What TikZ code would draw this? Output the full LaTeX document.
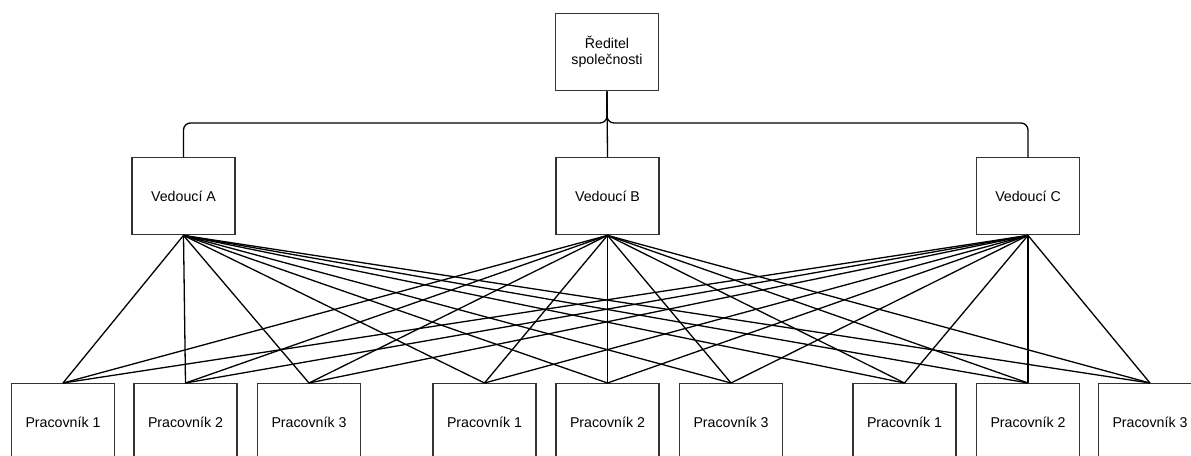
\documentclass[tikz,border=0pt]{standalone}
\usepackage{fontspec}
\setmainfont{Liberation Sans}
\begin{document}
\begin{tikzpicture}[x=1pt,y=-1pt,
  orgbox/.style={draw=black!80, line width=1.4pt, fill=white,
    minimum width=103pt, minimum height=77pt, inner sep=0pt,
    font=\fontsize{14.2}{16}\selectfont, align=center, anchor=north},
  link/.style={line width=1.3pt, line join=round},
  bus/.style={link, rounded corners=7pt}]
\useasboundingbox (0,0) rectangle (1191,455);
\clip (0,0) rectangle (1191,455);

% director
\node[orgbox] (R) at (607,13) {Ředitel\\společnosti};

% managers
\node[orgbox] (VA) at (183.5,157) {Vedoucí A};
\node[orgbox] (VB) at (607.5,157) {Vedoucí B};
\node[orgbox] (VC) at (1028,157) {Vedoucí C};

% workers
\node[orgbox] (W1) at (63,383)    {Pracovník 1};
\node[orgbox] (W2) at (185.5,383) {Pracovník 2};
\node[orgbox] (W3) at (309,383)   {Pracovník 3};
\node[orgbox] (W4) at (484.5,383) {Pracovník 1};
\node[orgbox] (W5) at (607.5,383) {Pracovník 2};
\node[orgbox] (W6) at (731,383)   {Pracovník 3};
\node[orgbox] (W7) at (904.5,383) {Pracovník 1};
\node[orgbox] (W8) at (1028,383)  {Pracovník 2};
\node[orgbox] (W9) at (1150,383)  {Pracovník 3};

% director to managers
\coordinate (J) at (607,123);
\draw[bus] (R.south) -- (J) -- (J -| VA.north) -- (VA.north);
\draw[bus] (R.south) -- (J) -- (J -| VC.north) -- (VC.north);
\draw[link] (R.south) -- (VB.north);

% every manager to every worker
\foreach \m in {VA,VB,VC}{
  \foreach \w in {W1,W2,W3,W4,W5,W6,W7,W8,W9}{
    \draw[link] (\m.south) -- (\w.north);
  }
}
\end{tikzpicture}
\end{document}
